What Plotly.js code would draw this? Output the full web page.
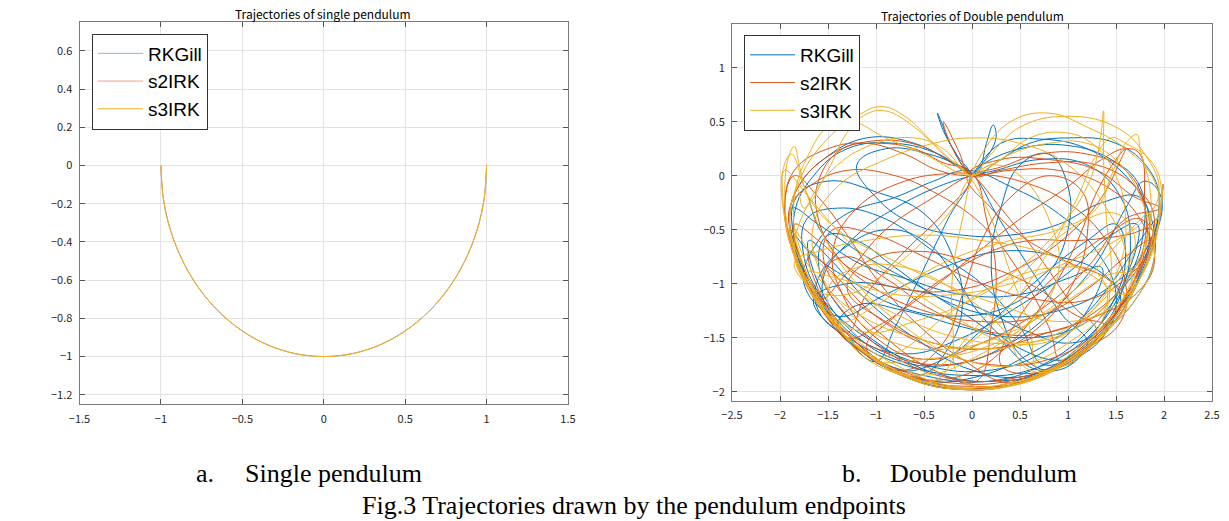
<!DOCTYPE html>
<html>
<head>
<meta charset="utf-8">
<script src="https://cdn.plot.ly/plotly-3.0.1.min.js"></script>
<style>
html,body{margin:0;padding:0;background:#fff;}
#chart{width:1229px;height:521px;}
</style>
</head>
<body>
<div id="chart"></div>
<script>
// ---------- data ----------
var seriesNames = ["RKGill", "s2IRK", "s3IRK"];

// single pendulum endpoint (read from the arc)
var singleX = [-1, -0.985, -0.94, -0.866, -0.766, -0.643, -0.5, -0.342, -0.174, 0,
               0.174, 0.342, 0.5, 0.643, 0.766, 0.866, 0.94, 0.985, 1];
var singleY = [0, -0.174, -0.342, -0.5, -0.643, -0.766, -0.866, -0.94, -0.985, -1,
               -0.985, -0.94, -0.866, -0.766, -0.643, -0.5, -0.342, -0.174, 0];

// double pendulum endpoint paths (approximate waypoints)
var rkgillPath = [
[1.99,-0.08],[1.93,-0.5],[1.75,-0.95],[1.45,-1.38],[1.0,-1.72],[0.45,-1.93],[-0.1,-1.98],[-0.65,-1.88],[-1.15,-1.62],[-1.55,-1.25],[-1.8,-0.82],[-1.9,-0.4],[-1.82,-0.12],
[-1.55,0.15],[-1.1,0.35],[-0.6,0.3],[-0.2,0.12],[0.0,0.02],
[0.25,-0.35],[0.6,-0.85],[0.95,-1.3],[1.2,-1.55],
[0.9,-1.78],[0.3,-1.9],[-0.3,-1.85],[-0.9,-1.6],[-1.4,-1.2],[-1.6,-0.8],
[-1.5,-0.55],[-1.2,-0.6],[-0.8,-0.85],[-0.3,-1.15],[0.3,-1.3],[0.9,-1.25],[1.4,-1.05],[1.8,-0.7],[1.95,-0.25],
[1.85,0.05],[1.5,0.3],[1.0,0.35],[0.6,0.3],[0.25,0.12],[0.02,0.0],
[-0.2,0.25],[-0.33,0.52],[-0.36,0.58],[-0.3,0.42],[-0.15,0.18],[-0.02,0.0],
[-0.25,-0.4],[-0.55,-0.95],[-0.8,-1.4],[-1.0,-1.72],
[-1.35,-1.45],[-1.65,-1.05],[-1.85,-0.65],[-1.88,-0.3],
[-1.6,-0.45],[-1.1,-0.75],[-0.5,-1.05],[0.2,-1.45],[0.7,-1.8],[1.1,-1.66],
[1.5,-1.3],[1.75,-0.9],[1.85,-0.5],[1.75,-0.2],
[1.35,-0.25],[0.9,-0.45],[0.4,-0.55],[-0.1,-0.55],[-0.6,-0.45],[-1.0,-0.2],[-1.2,0.1],
[-0.9,0.25],[-0.45,0.2],[-0.1,0.08],[0.05,0.02],
[0.15,0.3],[0.22,0.47],[0.25,0.35],[0.1,0.1],[0.0,0.0],
[0.3,0.3],[0.7,0.34],[1.2,0.25],[1.6,0.0],[1.85,-0.35],[1.9,-0.75],[1.7,-1.15],
[1.3,-1.5],[0.7,-1.82],[0.0,-1.97],[-0.7,-1.86],[-1.25,-1.55],[-1.65,-1.15],
[-1.3,-1.0],[-0.7,-1.05],[0.0,-1.2],[0.6,-1.45],[1.0,-1.55],[1.3,-1.45],
[1.55,-1.1],[1.65,-0.6],[1.55,-0.2],[1.2,0.1],[0.7,0.15],[0.25,0.05],[0.0,0.0],
[-0.35,-0.1],[-0.8,-0.3],[-1.2,-0.55],[-1.55,-0.95],[-1.45,-1.35],
[-1.1,-1.65],[-0.5,-1.85],[0.2,-1.9],[0.8,-1.72],[1.3,-1.35],[1.6,-0.95],[1.72,-0.45],
[1.45,-0.55],[1.0,-0.9],[0.5,-1.2],[-0.1,-1.5],[-0.7,-1.65],[-1.2,-1.5],[-1.55,-1.15],[-1.75,-0.75],[-1.72,-0.4],
[-1.4,-0.3],[-0.9,-0.4],[-0.4,-0.7],[0.1,-1.0],[0.5,-1.4],[0.75,-1.75],
[1.2,-1.55],[1.6,-1.15],[1.85,-0.7],[1.97,-0.2],
[1.8,-0.05],[1.6,-0.3],[1.3,-0.8],[0.9,-1.2],[0.4,-1.55],[-0.2,-1.75],[-0.8,-1.7],[-1.3,-1.4],[-1.6,-1.0],[-1.7,-0.6],
[-1.45,-0.8],[-1.1,-1.15],[-0.6,-1.5],[0.0,-1.8],[0.6,-1.85],[1.1,-1.6],[1.45,-1.2],[1.6,-0.75],[1.5,-0.45],
[1.2,-0.6],[0.7,-0.95],[0.2,-1.35],[-0.3,-1.7],[-0.8,-1.8],[-1.3,-1.5],[-1.65,-1.1],[-1.85,-0.6],[-1.83,-0.2],
[-1.5,-0.05],[-1.0,-0.15],[-0.5,-0.35],[-0.2,-0.75],[-0.1,-1.2],[-0.25,-1.6],[-0.55,-1.85],
[-1.0,-1.7],[-1.4,-1.4],[-1.2,-1.2],[-0.7,-1.25],[-0.1,-1.4],[0.5,-1.5],[1.1,-1.4],[1.5,-1.1],[1.8,-0.75],[1.93,-0.4],
[1.75,-0.6],[1.45,-1.0],[1.1,-1.35],[0.6,-1.65],[0.1,-1.85],[-0.5,-1.9],[-1.0,-1.72],[-1.5,-1.3],[-1.8,-0.85],[-1.9,-0.5],
[-1.7,-0.7],[-1.3,-0.95],[-0.8,-1.2],[-0.2,-1.3],[0.4,-1.2],[0.8,-0.9],[1.0,-0.5],[1.0,-0.1],[0.8,0.2],
[0.5,0.1],[0.3,-0.3],[0.2,-0.8],[0.3,-1.3],[0.55,-1.7],[0.9,-1.8],[1.3,-1.5],[1.55,-1.15],[1.35,-0.9],[0.9,-0.75],[0.3,-0.7],[-0.3,-0.85],[-0.9,-1.1],[-1.4,-1.3],[-1.75,-1.0],[-1.6,-0.6],
[-1.3,-0.35],[-0.8,-0.2],[-0.4,-0.05],[-0.05,0.05],
[0.4,-0.1],[0.9,-0.35],[1.3,-0.7],[1.5,-1.1],[1.4,-1.45],[1.0,-1.7],
[0.5,-1.6],[0.1,-1.3],[-0.2,-0.9],[-0.5,-0.6],[-0.9,-0.5],[-1.3,-0.65],[-1.6,-0.95],[-1.6,-1.25],[-1.2,-1.55],[-0.6,-1.78],[0.0,-1.85],[0.6,-1.8],[1.2,-1.5],[1.6,-1.0],[1.78,-0.55],[1.75,-0.1],
[1.45,0.15],[1.0,0.28],[0.5,0.25],[0.1,0.1],[0.0,0.02],
[-0.35,0.2],[-0.8,0.3],[-1.3,0.25],[-1.65,0.0],[-1.85,-0.35],[-1.8,-0.75],[-1.55,-1.15],[-1.1,-1.5],[-0.5,-1.75],[0.2,-1.8],[0.8,-1.6],[1.2,-1.25],[1.35,-0.85],
[1.0,-0.95],[0.5,-1.1],[-0.1,-1.1],[-0.7,-0.95],[-1.2,-0.8],[-1.55,-0.55],[-1.7,-0.2]
];

var s2irkPath = [
[1.99,-0.08],[1.93,-0.5],[1.75,-0.95],[1.45,-1.38],[1.0,-1.72],[0.45,-1.93],[-0.1,-1.98],[-0.65,-1.88],[-1.15,-1.62],[-1.55,-1.25],[-1.8,-0.82],[-1.9,-0.4],[-1.82,-0.12],
[-1.5,0.18],[-1.05,0.32],[-0.55,0.28],[-0.18,0.1],[0.0,0.01],
[0.3,-0.3],[0.7,-0.75],[1.05,-1.2],[1.3,-1.45],
[1.0,-1.7],[0.4,-1.88],[-0.2,-1.88],[-0.8,-1.68],[-1.3,-1.3],[-1.55,-0.9],
[-1.3,-0.75],[-0.9,-0.95],[-0.4,-1.25],[0.2,-1.45],[0.8,-1.45],[1.3,-1.25],[1.7,-0.85],[1.9,-0.4],
[1.7,-0.1],[1.3,0.1],[0.8,0.12],[0.3,0.05],[0.0,0.0],
[-0.15,0.25],[-0.28,0.48],[-0.3,0.5],[-0.25,0.35],[-0.12,0.12],[0.0,0.0],
[-0.3,-0.35],[-0.7,-0.7],[-1.1,-1.1],[-1.3,-1.45],
[-1.6,-1.1],[-1.82,-0.7],[-1.9,-0.3],
[-1.7,-0.1],[-1.3,0.05],[-0.8,0.0],[-0.4,-0.15],[0.1,-0.45],[0.5,-0.9],[0.8,-1.4],[0.95,-1.75],
[1.35,-1.45],[1.65,-1.05],[1.82,-0.6],[1.8,-0.25],
[1.75,0.2],[1.6,0.25],[1.35,0.15],[1.0,-0.1],[0.5,-0.4],[0.0,-0.75],[-0.5,-1.1],[-1.0,-1.4],[-1.3,-1.5],
[-1.6,-1.15],[-1.85,-0.7],[-1.95,-0.25],[-1.85,0.0],
[-1.6,-0.2],[-1.3,-0.55],[-1.0,-0.95],[-0.6,-1.35],[-0.1,-1.7],[0.4,-1.92],
[0.9,-1.75],[1.35,-1.4],[1.7,-0.95],[1.88,-0.5],
[1.6,-0.55],[1.1,-0.6],[0.6,-0.6],[0.2,-0.7],[-0.3,-0.95],[-0.8,-1.3],[-1.1,-1.6],
[-0.6,-1.85],[0.0,-1.97],[0.6,-1.88],[1.2,-1.58],[1.6,-1.15],
[1.4,-0.95],[1.0,-0.8],[0.5,-0.55],[0.2,-0.3],[-0.05,0.0],
[0.3,0.15],[0.8,0.15],[1.3,0.05],[1.7,-0.2],[1.95,-0.3],
[1.6,-0.4],[1.2,-0.85],[0.7,-1.25],[0.1,-1.55],[-0.5,-1.7],[-1.0,-1.5],[-1.35,-1.1],[-1.45,-0.7],
[-1.2,-0.3],[-0.7,-0.05],[-0.25,0.02],[0.0,0.02],
[0.5,-0.05],[1.0,-0.25],[1.4,-0.6],[1.6,-1.0],[1.55,-1.35],[1.2,-1.6],[0.6,-1.9],
[0.0,-1.95],[-0.6,-1.88],[-1.1,-1.62],[-1.5,-1.25],[-1.75,-0.85],[-1.85,-0.45],
[-1.6,-0.6],[-1.2,-0.9],[-0.7,-1.05],[-0.1,-1.05],[0.5,-0.85],[1.0,-0.55],[1.35,-0.2],[1.55,0.15],[1.6,0.25],[1.5,0.15],
[1.3,-0.15],[1.1,-0.6],[0.8,-1.1],[0.4,-1.55],[-0.1,-1.85],[-0.7,-1.85],[-1.2,-1.55],[-1.55,-1.15],[-1.7,-0.7],
[-1.45,-0.9],[-1.0,-1.3],[-0.4,-1.6],[0.2,-1.75],[0.8,-1.7],[1.3,-1.45],[1.65,-1.05],[1.85,-0.6],
[1.6,-0.75],[1.2,-1.05],[0.7,-1.3],[0.1,-1.35],[-0.5,-1.25],[-1.0,-1.05],[-1.4,-0.75],[-1.6,-0.4],[-1.6,-0.05],
[-1.35,0.25],[-1.0,0.3],[-0.6,0.25],[-0.3,0.12],[0.0,0.03],
[0.15,-0.4],[0.25,-0.9],[0.2,-1.4],[0.05,-1.9],
[-0.4,-1.8],[-0.9,-1.5],[-1.3,-1.15],[-1.55,-0.75],[-1.45,-0.5],[-1.0,-0.55],[-0.5,-0.75],[0.1,-1.0],[0.7,-1.15],[1.2,-1.15],[1.6,-0.95],[1.9,-0.6],
[1.75,-0.4],[1.4,-0.55],[0.9,-0.9],[0.5,-1.3],[0.3,-1.75],
[0.7,-1.82],[1.2,-1.55],[1.55,-1.2],[1.75,-0.8],[1.8,-0.3],[1.6,0.05],[1.2,0.2],[0.7,0.2],[0.3,0.08],[0.0,0.01],
[-0.4,-0.2],[-0.9,-0.5],[-1.3,-0.9],[-1.6,-1.15],[-1.75,-0.9],
[-1.5,-1.3],[-1.0,-1.6],[-0.4,-1.75],[0.2,-1.65],[0.7,-1.4],[1.05,-1.0],[1.2,-0.55],[1.15,-0.15],
[0.8,0.0],[0.4,-0.2],[0.1,-0.6],[-0.1,-1.1],[-0.3,-1.55],[-0.7,-1.8],
[-1.2,-1.6],[-1.6,-1.2],[-1.85,-0.75],[-1.95,-0.3],[-1.85,0.05],
[-1.5,0.25],[-1.1,0.3],[-0.7,0.2],[-0.35,0.05],[0.0,0.0],
[0.4,0.05],[0.9,0.05],[1.4,-0.1],[1.75,-0.4],[1.9,-0.8],[1.7,-1.1],[1.3,-1.3],[0.8,-1.45],[0.2,-1.6],[-0.4,-1.55],[-0.9,-1.35],[-1.3,-1.05],
[-1.1,-0.8],[-0.6,-0.7],[0.0,-0.8],[0.6,-1.0],[1.1,-1.3],[1.4,-1.4],
[1.0,-1.72],[0.4,-1.9],[-0.2,-1.92],[-0.8,-1.8],[-1.3,-1.5]
];

var s3irkPath = [
[1.99,-0.08],[1.93,-0.5],[1.75,-0.95],[1.45,-1.38],[1.0,-1.72],[0.45,-1.93],[-0.1,-1.98],[-0.65,-1.88],[-1.15,-1.62],[-1.55,-1.25],[-1.8,-0.82],[-1.9,-0.4],[-1.82,-0.12],
[-1.75,-0.3],[-1.5,0.05],[-1.3,0.4],[-1.1,0.57],[-0.9,0.6],[-0.6,0.45],[-0.3,0.2],[-0.05,0.02],
[0.2,-0.4],[0.4,-0.9],[0.6,-1.4],[0.7,-1.8],
[1.1,-1.6],[1.45,-1.3],[1.7,-0.9],[1.85,-0.5],[1.85,-0.1],
[1.75,0.25],[1.72,0.38],[1.6,0.3],[1.45,0.0],[1.3,-0.3],
[0.9,-0.5],[0.4,-0.6],[0.0,-0.7],[-0.5,-0.9],[-1.0,-1.2],[-1.4,-1.35],
[-1.7,-1.0],[-1.9,-0.55],[-1.95,-0.1],[-1.9,0.2],[-1.85,0.27],[-1.8,0.1],[-1.7,-0.2],
[-1.4,-0.5],[-0.9,-0.75],[-0.3,-1.0],[0.3,-1.2],[0.9,-1.35],[1.4,-1.25],[1.75,-0.95],
[1.95,-0.4],[1.9,-0.05],[1.6,0.25],[1.2,0.45],[0.8,0.58],[0.4,0.5],[0.1,0.2],[0.0,0.0],
[-0.1,-0.4],[-0.2,-0.9],[-0.2,-1.4],[-0.1,-1.9],
[0.5,-1.9],[1.0,-1.7],[1.35,-1.35],[1.45,-0.9],[1.4,-0.4],[1.37,0.2],[1.37,0.6],[1.33,0.3],[1.2,-0.1],
[0.9,-0.5],[0.5,-0.85],[0.0,-1.15],[-0.6,-1.35],[-1.1,-1.45],[-1.5,-1.25],[-1.75,-0.85],[-1.9,-0.45],
[-1.8,-0.05],[-1.55,0.3],[-1.2,0.55],[-0.95,0.64],[-0.7,0.55],[-0.4,0.3],[-0.1,0.05],[0.0,0.0],
[0.4,0.2],[0.8,0.3],[1.2,0.3],[1.55,0.1],[1.8,-0.3],[1.9,-0.75],[1.7,-1.15],[1.3,-1.5],[0.8,-1.8],[0.2,-1.95],
[-0.4,-1.93],[-1.0,-1.7],[-1.45,-1.35],[-1.75,-0.9],
[-1.4,-0.95],[-0.8,-1.1],[-0.2,-1.1],[0.4,-1.0],[1.0,-0.8],[1.5,-0.6],[1.8,-0.4],[1.95,-0.15],
[1.8,0.2],[1.5,0.45],[1.0,0.55],[0.5,0.45],[0.15,0.15],[0.0,0.0],
[-0.3,0.25],[-0.6,0.35],[-1.0,0.3],[-1.4,0.1],[-1.7,-0.25],[-1.85,-0.7],[-1.7,-1.05],
[-1.3,-1.45],[-0.8,-1.75],[-0.2,-1.95],[0.4,-1.95],[1.0,-1.72],[1.45,-1.35],[1.7,-0.95],
[1.5,-0.9],[1.0,-1.15],[0.4,-1.45],[-0.2,-1.6],[-0.8,-1.55],[-1.3,-1.25],[-1.6,-0.85],[-1.65,-0.45],
[-1.4,-0.1],[-0.9,0.15],[-0.4,0.3],[0.0,0.35],
[0.5,0.3],[1.0,0.1],[1.4,-0.3],[1.6,-0.7],[1.65,-1.1],
[1.4,-1.45],[0.95,-1.75],[0.35,-1.95],[-0.3,-1.95],[-0.9,-1.75],[-1.4,-1.4],[-1.7,-0.95],[-1.85,-0.5],
[-1.65,-0.75],[-1.25,-1.05],[-0.75,-1.3],[-0.15,-1.5],[0.45,-1.55],[1.0,-1.45],[1.45,-1.15],[1.75,-0.75],[1.85,-0.35],
[1.6,-0.55],[1.2,-0.95],[0.7,-1.3],[0.1,-1.65],[-0.5,-1.85],[-1.0,-1.75],[-1.35,-1.45],[-1.5,-1.05],
[-1.2,-0.85],[-0.7,-0.85],[-0.2,-1.05],[0.3,-1.4],[0.6,-1.8],
[1.05,-1.72],[1.45,-1.35],[1.75,-0.95],[1.9,-0.5],[1.97,-0.1],
[1.85,0.15],[1.6,0.3],[1.45,0.35],[1.3,0.2],[1.1,-0.2],[0.8,-0.7],[0.4,-1.2],[-0.1,-1.6],[-0.6,-1.85],
[-1.1,-1.65],[-1.5,-1.3],[-1.8,-0.85],[-1.95,-0.4],[-1.97,0.05],[-1.88,0.2],[-1.75,-0.1],[-1.55,-0.55],[-1.2,-1.0],[-0.7,-1.4],[-0.1,-1.7],[0.5,-1.75],[1.0,-1.55],[1.4,-1.2],
[1.3,-0.9],[0.9,-0.85],[0.4,-0.95],[-0.2,-1.25],[-0.7,-1.6],[-1.0,-1.72],
[-0.5,-1.7],[0.1,-1.6],[0.6,-1.35],[0.9,-0.9],[0.8,-0.4],[0.5,0.0],[0.2,0.1],[0.0,0.0],
[-0.5,0.2],[-0.9,0.35],[-1.25,0.5],[-1.5,0.45],[-1.7,0.2],[-1.85,-0.2],[-1.8,-0.65],
[-1.55,-1.0],[-1.15,-1.3],[-0.6,-1.5],[0.0,-1.6],[0.6,-1.55],[1.1,-1.35],[1.5,-1.0],[1.7,-0.6],
[1.5,-0.35],[1.1,-0.45],[0.7,-0.75],[0.3,-1.15],[-0.1,-1.55],[-0.4,-1.9],
[-0.9,-1.75],[-1.35,-1.45],[-1.7,-1.05],[-1.9,-0.6],[-1.97,-0.2],[-1.95,0.05],
[-1.7,-0.2],[-1.3,-0.6],[-0.8,-0.95],[-0.2,-1.3],[0.4,-1.55],[0.9,-1.5],[1.3,-1.2],[1.55,-0.8],[1.6,-0.4],[1.5,0.0],
[1.25,0.3],[0.95,0.4],[0.6,0.35],[0.3,0.15],[0.0,0.0],
[-0.2,-0.3],[-0.5,-0.6],[-0.9,-0.9],[-1.3,-1.1],[-1.65,-1.05],[-1.85,-0.8],
[-1.6,-0.7],[-1.1,-0.6],[-0.5,-0.55],[0.1,-0.6],[0.7,-0.7],[1.2,-0.9],[1.6,-1.1],[1.7,-0.95]
];

var leftXTicks = [-1.5, -1, -0.5, 0, 0.5, 1, 1.5];
var leftYTicks = [-1.2, -1, -0.8, -0.6, -0.4, -0.2, 0, 0.2, 0.4, 0.6];
var rightXTicks = [-2.5, -2, -1.5, -1, -0.5, 0, 0.5, 1, 1.5, 2, 2.5];
var rightYTicks = [-2, -1.5, -1, -0.5, 0, 0.5, 1];

// ---------- styling ----------
var colors = ["#0072BD", "#D95319", "#EDB120"];
var W = 1229, H = 521;
function px(x){ return x / W; }
function py(y){ return 1 - y / H; }

var tickFont = {family: "Noto Sans CJK JP, Liberation Sans, sans-serif", size: 11, color: "#262626"};

function axisStyle(range, ticks, domain, anchor){
  return {
    domain: domain, anchor: anchor, range: range, autorange: false,
    tickmode: "array", tickvals: ticks,
    ticks: "inside", ticklen: 5, tickcolor: "#555", tickwidth: 1,
    showline: true, linecolor: "#7a7a7a", linewidth: 1, mirror: "ticks",
    showgrid: true, gridcolor: "#e3e3e3", gridwidth: 1,
    zeroline: false, tickfont: tickFont, ticklabelstandoff: 4,
    fixedrange: true
  };
}

var traces = [];
var leftColors = ["#7fb8e0", "#ee9f84", "#EDB120"];
for (var i = 0; i < 3; i++) {
  traces.push({
    x: singleX, y: singleY, type: "scatter", mode: "lines",
    name: seriesNames[i], xaxis: "x", yaxis: "y", legend: "legend",
    line: {color: leftColors[i], width: 1, shape: "spline", smoothing: 1}
  });
}
var paths = [rkgillPath, s2irkPath, s3irkPath];
for (var j = 0; j < 3; j++) {
  traces.push({
    x: paths[j].map(function(p){ return p[0]; }),
    y: paths[j].map(function(p){ return p[1]; }),
    type: "scatter", mode: "lines",
    name: seriesNames[j], xaxis: "x2", yaxis: "y2", legend: "legend2",
    line: {color: colors[j], width: 1, shape: "spline", smoothing: 1.2}
  });
}

var legendBase = {
  xanchor: "left", yanchor: "top",
  bgcolor: "#ffffff", bordercolor: "#333333", borderwidth: 1,
  font: {family: "Liberation Sans, Arial, sans-serif", size: 19, color: "#000"},
  tracegroupgap: 0, itemwidth: 45, traceorder: "normal"
};
var legend1 = Object.assign({}, legendBase, {x: px(92), y: py(33.5)});
var legend2 = Object.assign({}, legendBase, {x: px(744), y: py(35)});

var titleFont = {family: "Noto Sans CJK JP, Liberation Sans, sans-serif", size: 12, color: "#000"};
var capFont = {family: "Liberation Serif, Times New Roman, serif", size: 26, color: "#000"};

var annotations = [
  {text: "Trajectories of single pendulum", xref: "paper", yref: "paper", x: px(323), y: py(14), xanchor: "center", yanchor: "middle", showarrow: false, font: titleFont},
  {text: "Trajectories of Double pendulum", xref: "paper", yref: "paper", x: px(972), y: py(15), xanchor: "center", yanchor: "middle", showarrow: false, font: titleFont},
  {text: "a.", xref: "paper", yref: "paper", x: px(194), y: py(473), xanchor: "left", yanchor: "middle", showarrow: false, font: capFont},
  {text: "Single pendulum", xref: "paper", yref: "paper", x: px(243), y: py(473), xanchor: "left", yanchor: "middle", showarrow: false, font: capFont},
  {text: "b.", xref: "paper", yref: "paper", x: px(840), y: py(473), xanchor: "left", yanchor: "middle", showarrow: false, font: capFont},
  {text: "Double pendulum", xref: "paper", yref: "paper", x: px(888), y: py(473), xanchor: "left", yanchor: "middle", showarrow: false, font: capFont},
  {text: "Fig.3 Trajectories drawn by the pendulum endpoints", xref: "paper", yref: "paper", x: px(634), y: py(505), xanchor: "center", yanchor: "middle", showarrow: false, font: capFont}
];

var layout = {
  width: W, height: H,
  margin: {l: 0, r: 0, t: 0, b: 0, pad: 0},
  paper_bgcolor: "#ffffff", plot_bgcolor: "#ffffff",
  showlegend: true,
  xaxis: axisStyle([-1.5, 1.5], leftXTicks, [px(79.5), px(568)], "y"),
  yaxis: axisStyle([-1.25, 0.75], leftYTicks, [py(404.3), py(22.3)], "x"),
  xaxis2: axisStyle([-2.5, 2.5], rightXTicks, [px(732), px(1212)], "y2"),
  yaxis2: axisStyle([-2.086, 1.405], rightYTicks, [py(401), py(24)], "x2"),
  legend: legend1,
  legend2: legend2,
  annotations: annotations
};

Plotly.newPlot("chart", traces, layout, {staticPlot: true, displayModeBar: false});
</script>
</body>
</html>
